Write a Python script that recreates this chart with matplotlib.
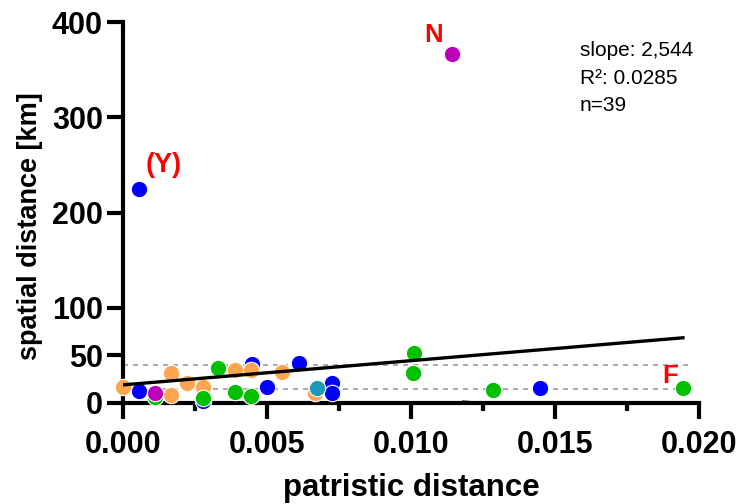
import matplotlib
matplotlib.use("Agg")
import matplotlib.pyplot as plt
import numpy as np

plt.rcParams['font.family'] = ['Liberation Sans', 'DejaVu Sans']

# Data (patristic distance, spatial distance km) by group
blue_x = [0.00056, 0.00277, 0.00447, 0.00499, 0.00611, 0.00727, 0.00727, 0.01448, 0.00056]
blue_y = [12.6, 2.4, 41.0, 17.1, 41.6, 21.3, 10.2, 16.1, 224.7]
orange_x = [0.0000, 0.00166, 0.00166, 0.00221, 0.00277, 0.00389, 0.00443, 0.00552, 0.00667]
orange_y = [17.1, 32.0, 8.4, 20.7, 16.5, 34.6, 34.6, 32.9, 10.2]
green_x = [0.00111, 0.00277, 0.00329, 0.00389, 0.00443, 0.0101, 0.01008, 0.01286, 0.01946]
green_y = [6.0, 4.9, 37.0, 11.9, 7.3, 52.8, 31.2, 13.6, 16.1]
magenta_x = [0.00111, 0.01142]
magenta_y = [10.8, 366.4]
teal_x = [0.00672]
teal_y = [15.4]

slope = 2544
intercept = 19.0
fit_x = [0.0, 0.0195]
ref_levels = [40, 15]
lower_band_x = [0.0118, 0.0127]
lower_band_y = [2.0, 0.0]

y_ticks = [0, 50, 100, 200, 300, 400]
x_ticks = [0.000, 0.005, 0.010, 0.015, 0.020]

fig = plt.figure(figsize=(7.36, 5.04), dpi=100)
ax = fig.add_axes([123/736, 1-403/504, 576/736, 381/504])

for lv in ref_levels:
    ax.plot([0, 0.0198], [lv, lv], color='#999999', lw=1.2, ls=(0, (3, 3)), zorder=1)
ax.plot(lower_band_x, lower_band_y, color='black', lw=1.0, zorder=1)

ms = 140
kw = dict(s=ms, edgecolors='white', linewidths=0.8, clip_on=False)
ax.scatter(blue_x, blue_y, color='#0000FF', zorder=3, **kw)
ax.scatter(orange_x, orange_y, color='#FFA550', zorder=4, **kw)
ax.scatter(green_x, green_y, color='#00C000', zorder=5, **kw)
ax.scatter(magenta_x, magenta_y, color='#BB00BB', zorder=6, **kw)
ax.scatter(teal_x, teal_y, color='#1A9AB4', zorder=7, **kw)

fx = np.array(fit_x)
ax.plot(fx, intercept + slope * fx, color='black', lw=2.4, zorder=8, solid_capstyle='butt')

ax.set_xlim(0, 0.020)
ax.set_ylim(0, 400)
ax.set_xticks(x_ticks)
ax.set_xticklabels([f"{v:.3f}" for v in x_ticks])
ax.set_xticks(np.arange(0.0025, 0.020, 0.005), minor=True)
ax.set_yticks(y_ticks)
ax.set_yticklabels([str(v) for v in y_ticks])

for s in ['top', 'right']:
    ax.spines[s].set_visible(False)
for s in ['left', 'bottom']:
    ax.spines[s].set_linewidth(3)

ax.tick_params(axis='both', which='major', length=11.5, width=3, labelsize=22, direction='out')
ax.tick_params(axis='x', which='minor', length=5.5, width=3)
ax.tick_params(axis='x', which='major', pad=8)
ax.tick_params(axis='y', which='major', pad=3)
for lab in ax.get_xticklabels() + ax.get_yticklabels():
    lab.set_fontweight('bold')

ax.set_xlabel('patristic distance', fontsize=22.5, fontweight='bold')
ax.set_ylabel('spatial distance [km]', fontsize=19.5, fontweight='bold')
ax.xaxis.set_label_coords(0.5, -0.183)
ax.yaxis.set_label_coords(-0.139, 0.465)

ax.text(0.01587, 341, 'slope: 2,544\nR²: 0.0285\nn=39', fontsize=15, va='center', ha='left',
        linespacing=1.55)
ax.text(0.00143, 250, '(Y)', color='red', fontsize=19.5, fontweight='bold', ha='center', va='center')
ax.text(0.0108, 386, 'N', color='red', fontsize=18.5, fontweight='bold', ha='center', va='center')
ax.text(0.0190, 28, 'F', color='red', fontsize=18.5, fontweight='bold', ha='center', va='center')

fig.savefig('out.png', dpi=100)
